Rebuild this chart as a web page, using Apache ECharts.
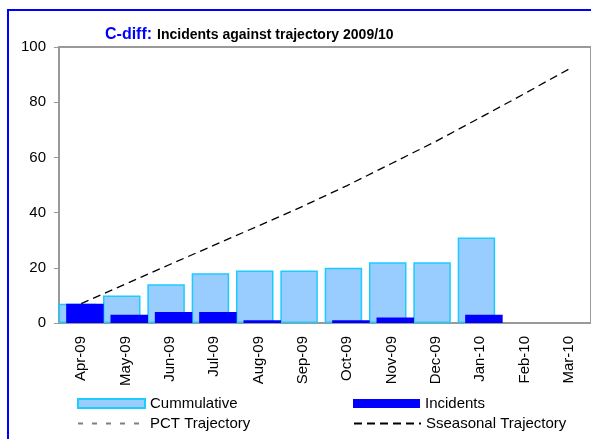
<!DOCTYPE html>
<html>
<head>
<meta charset="utf-8">
<script src="https://cdn.jsdelivr.net/npm/echarts@6/dist/echarts.min.js"></script>
<style>
  html, body { margin: 0; padding: 0; background: #fff; overflow: hidden; }
  #chart { width: 591px; height: 439px; }
</style>
</head>
<body>
<div id="chart"></div>
<script>
  const months = ["Apr-09", "May-09", "Jun-09", "Jul-09", "Aug-09", "Sep-09",
                  "Oct-09", "Nov-09", "Dec-09", "Jan-10", "Feb-10", "Mar-10"];
  const cumulative = [7, 10, 14, 18, 19, 19, 20, 22, 22, 31, null, null];
  const incidents = [7, 3, 4, 4, 1, 0, 1, 2, 0, 3, null, null];
  const pctTrajectory = [];
  const seasonalTrajectory = [7, 14.1, 21.2, 28.2, 35.2, 42.3, 49.8, 57.8, 65.8, 74.4, 83.1, 92];
  const yTicks = { min: 0, max: 100, interval: 20 };

  const font = "Arial, 'Liberation Sans', sans-serif";
  const chart = echarts.init(document.getElementById("chart"));

  function legendAt(name, left, top, isLine) {
    const lg = {
      data: [isLine ? name : { name: name, icon: "rect" }],
      left: left,
      top: top,
      padding: 0,
      itemWidth: 67,
      itemHeight: 9,
      selectedMode: false,
      textStyle: { fontSize: 15, color: "#000", fontFamily: font }
    };
    // hide the symbol dot on line items, keep the dashed line
    if (isLine) lg.itemStyle = { opacity: 0 };
    return lg;
  }

  const option = {
    animation: false,
    backgroundColor: "#fff",
    textStyle: { fontFamily: font },
    title: {
      text: "{a|C-diff:} {b|Incidents against trajectory 2009/10}",
      left: 105,
      top: 26,
      padding: 0,
      textStyle: {
        rich: {
          a: { fontSize: 16, fontWeight: "bold", color: "#0000ff", fontFamily: font },
          b: { fontSize: 14, fontWeight: "bold", color: "#000", fontFamily: font }
        }
      }
    },
    graphic: [
      {
        type: "line",
        shape: { x1: 8, y1: 9, x2: 8, y2: 450 },
        style: { stroke: "#0000ff", lineWidth: 2 },
        silent: true
      },
      {
        type: "line",
        shape: { x1: 7, y1: 10, x2: 600, y2: 10 },
        style: { stroke: "#0000ff", lineWidth: 2 },
        silent: true
      }
    ],
    legend: [
      legendAt("Cummulative", 77, 396, false),
      legendAt("Incidents", 353, 396, false),
      legendAt("PCT Trajectory", 77, 416, true),
      legendAt("Sseasonal Trajectory", 353, 416, true)
    ],
    grid: {
      left: 59, right: -2, top: 47, bottom: 116,
      show: true, borderColor: "#999", borderWidth: 2
    },
    xAxis: {
      type: "category",
      data: months,
      axisLine: { lineStyle: { color: "#999", width: 2 } },
      axisTick: { show: false },
      axisLabel: { rotate: 90, margin: 13, fontSize: 15, color: "#000", fontFamily: font }
    },
    yAxis: {
      type: "value",
      min: yTicks.min,
      max: yTicks.max,
      interval: yTicks.interval,
      splitLine: { show: false },
      axisLine: { show: true, lineStyle: { color: "#999", width: 2 } },
      axisTick: { show: true, length: 5, lineStyle: { color: "#999" } },
      axisLabel: { margin: 13, fontSize: 15, color: "#000", fontFamily: font }
    },
    series: [
      {
        name: "Cummulative",
        type: "bar",
        data: cumulative,
        barWidth: 37.5,
        barGap: "-80%",
        itemStyle: { color: "#99ccff", borderColor: "#1ecbff", borderWidth: 1.5 }
      },
      {
        name: "Incidents",
        type: "bar",
        data: incidents,
        barWidth: 37.5,
        itemStyle: { color: "#0000ff" }
      },
      {
        name: "PCT Trajectory",
        type: "line",
        data: pctTrajectory,
        symbol: "none",
        itemStyle: { color: "#808080" },
        lineStyle: { color: "#808080", width: 2.5, type: [5, 9] }
      },
      {
        name: "Sseasonal Trajectory",
        type: "line",
        data: seasonalTrajectory,
        symbol: "none",
        itemStyle: { color: "#000" },
        lineStyle: { color: "#000", width: 1.3, type: [8, 5] },
        z: 5
      }
    ]
  };

  chart.setOption(option);
</script>
</body>
</html>
